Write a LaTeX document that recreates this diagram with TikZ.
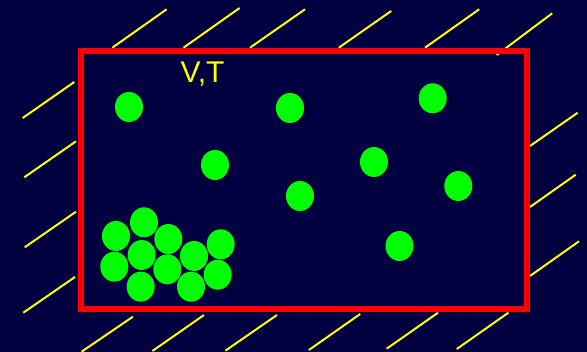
\documentclass[tikz,border=0pt]{standalone}
\usepackage{fontspec}
\setmainfont{Liberation Sans}
\usepackage{tikz}
\usetikzlibrary{shapes.geometric}
\definecolor{navy}{RGB}{0,0,64}
\definecolor{ballgreen}{RGB}{0,255,0}
\definecolor{wallred}{RGB}{255,0,0}
\definecolor{hatchyellow}{RGB}{255,255,0}
\tikzset{
    ball/.style={ellipse, fill=ballgreen, draw=none, minimum width=28pt, minimum height=30pt, inner sep=0pt},
    box/.style={draw=wallred, line width=5.5pt, rectangle, inner sep=0pt},
    hatch/.style={draw=hatchyellow, line width=2pt}
}

\begin{document}
\begin{tikzpicture}[x=1pt, y=-1pt]
\fill[navy] (0,0) rectangle (587,352);
\useasboundingbox (0,0) rectangle (587,352);
% hatching of the surroundings
\draw[hatch] (112.3,47.7) -- (166.6,9.3);
\draw[hatch] (183.5,47.7) -- (239.6,8);
\draw[hatch] (250,47.7) -- (305,9.3);
\draw[hatch] (338.8,47.7) -- (391.2,11);
\draw[hatch] (425,47.7) -- (479.2,9.3);
\draw[hatch] (496.7,55) -- (552.2,13.3);
\draw[hatch] (22.7,118) -- (74.3,82);
\draw[hatch] (24.3,177.3) -- (76,141.3);
\draw[hatch] (24.7,247.3) -- (76,211.7);
\draw[hatch] (23.3,312.7) -- (75,277);
\draw[hatch] (81.6,351.7) -- (132.9,316.7);
\draw[hatch] (152.4,351) -- (204,315);
\draw[hatch] (225.4,350.7) -- (277,315);
\draw[hatch] (308.9,350) -- (360.2,314);
\draw[hatch] (386.7,348.7) -- (438,312.7);
\draw[hatch] (456.8,349) -- (508.4,312.7);
\draw[hatch] (530,146) -- (577.7,112.7);
\draw[hatch] (530,207) -- (575.7,174.7);
\draw[hatch] (530,276) -- (579,241.3);
% the vessel
\node[box, minimum width=446pt, minimum height=258pt] (vessel) at (304,180) {};
\node[text=hatchyellow, font=\fontsize{30}{36}\selectfont, inner sep=0pt] (vt) at (202.5,74) {V,T};
% free particles
\node[ball] (p1) at (129,107) {};
\node[ball] (p2) at (290,108) {};
\node[ball] (p3) at (432.7,98.3) {};
\node[ball] (p4) at (215,165) {};
\node[ball] (p5) at (374,162) {};
\node[ball] (p6) at (458.3,186) {};
\node[ball] (p7) at (300,196) {};
\node[ball] (p8) at (399.5,246) {};
% condensed droplet
\node[ball] (d1) at (116,236) {};
\node[ball] (d2) at (144,222.3) {};
\node[ball] (d3) at (168.3,239) {};
\node[ball] (d4) at (141.7,255) {};
\node[ball] (d5) at (114.3,266.7) {};
\node[ball] (d6) at (167.3,269.3) {};
\node[ball] (d7) at (194,256) {};
\node[ball] (d8) at (220.7,244.3) {};
\node[ball] (d9) at (140.7,286.7) {};
\node[ball] (d10) at (191,286.7) {};
\node[ball] (d11) at (217.7,274.7) {};
\end{tikzpicture}
\end{document}
